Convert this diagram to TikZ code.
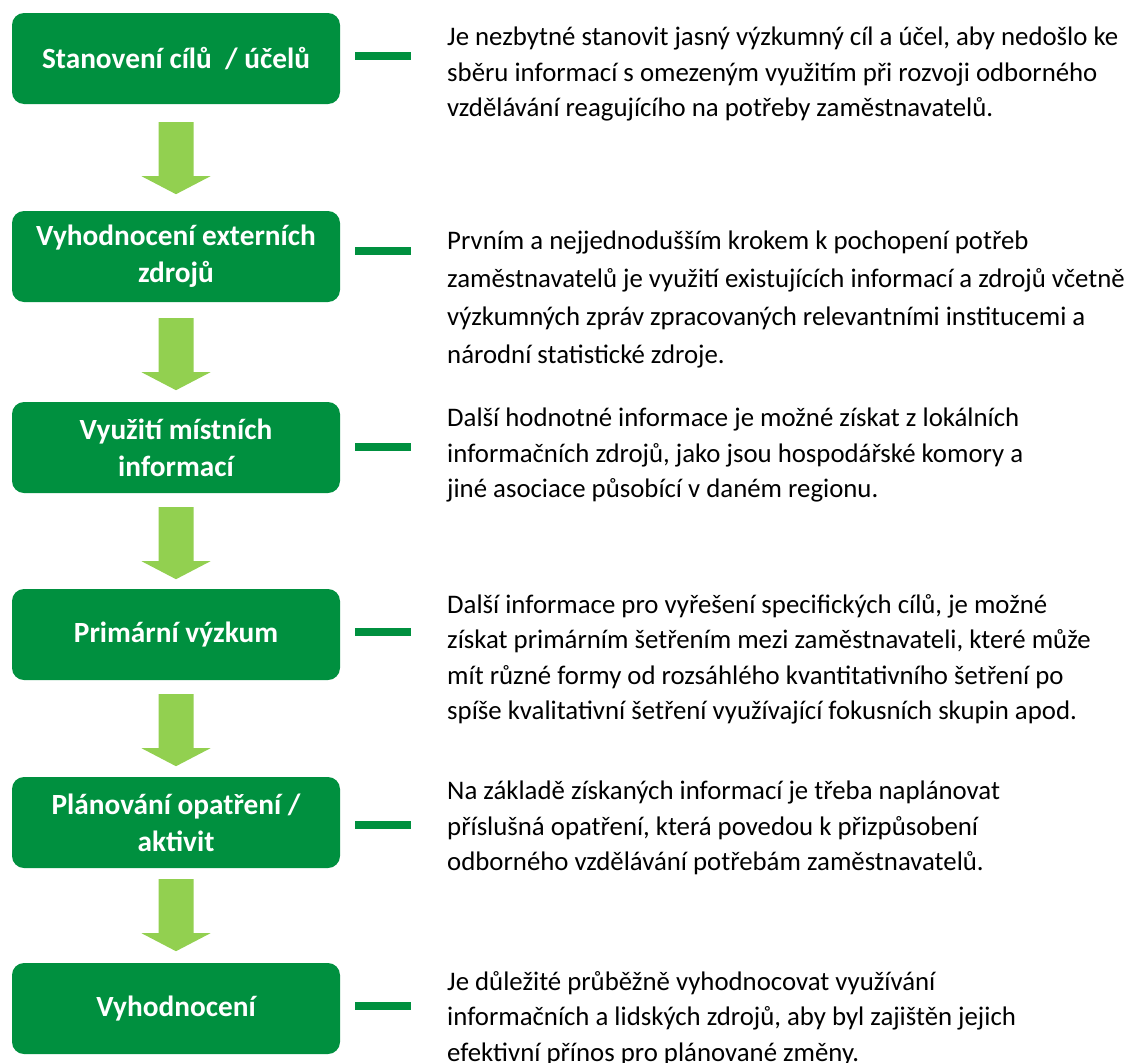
\documentclass[tikz,border=0pt]{standalone}
\usepackage{fontspec}
\setmainfont{Carlito}
\usetikzlibrary{positioning, arrows.meta}
\definecolor{stepgreen} {RGB}{0, 144, 63}
\definecolor{arrowgreen}{RGB}{146, 208, 80}
\newcommand{\boxfont} {\fontsize{29.3pt}{37pt}\selectfont\bfseries}
\newcommand{\notefont}{\fontsize{26.8pt}{35.5pt}\selectfont}
\tikzset{
  % green step box
  stepbox/.style={
    rectangle, rounded corners=12pt,
    minimum width=328pt, minimum height=91pt, inner sep=0pt,
    fill=stepgreen, text=white, font=\boxfont, align=center
  },
  % short bar between box and text
  linkbar/.style={
    rectangle, minimum width=56pt, minimum height=8pt,
    inner sep=0pt, fill=stepgreen
  },
  % explanatory text
  note/.style={
    anchor=north west, inner sep=0pt,
    font=\notefont, align=left, text=black
  },
  % block arrow pointing down
  pics/blockarrow/.style={code={
    \fill[arrowgreen] (-17.5,0) -- (17.5,0) -- (17.5,54) -- (34.5,54)
      -- (0,72) -- (-34.5,54) -- (-17.5,54) -- cycle;
  }},
}
\begin{document}
\begin{tikzpicture}[x=1pt, y=-1pt]
  \useasboundingbox (0,0) rectangle (1128,1063);
  % steps
  \node[stepbox] (s1) at (176,58.5)   {Stanovení cílů\ \ / účelů};
  \node[stepbox] (s2) at (176,256.5)  {Vyhodnocení externích\\zdrojů};
  \node[stepbox] (s3) at (176,447.5)  {Využití místních\\informací};
  \node[stepbox] (s4) at (176,634.5)  {Primární výzkum};
  \node[stepbox] (s5) at (176,822.5)  {Plánování opatření /\\aktivit};
  \node[stepbox] (s6) at (176,1008.5) {Vyhodnocení};
  % arrows between steps
  \foreach \a/\g in {s1/18, s2/16, s3/14, s4/14, s5/11}
    \pic at ([yshift=-\g pt]\a.south) {blockarrow};
  % bars
  \node[linkbar] (b1) at (383,56)   {};
  \node[linkbar] (b2) at (383,251)  {};
  \node[linkbar] (b3) at (383,447)  {};
  \node[linkbar] (b4) at (383,632)  {};
  \node[linkbar] (b5) at (383,825)  {};
  \node[linkbar] (b6) at (383,1006) {};
  % texts
  \node[note] (t1) at (447,27) {Je nezbytné stanovit jasný výzkumný cíl a účel, aby nedošlo ke\\
    sběru informací s omezeným využitím při rozvoji odborného\\
    vzdělávání reagujícího na potřeby zaměstnavatelů.};
  \node[note, font=\fontsize{26.8pt}{38pt}\selectfont] (t2) at (447,231)
    {Prvním a nejjednodušším krokem k pochopení potřeb\\
    zaměstnavatelů je využití existujících informací a zdrojů včetně\\
    výzkumných zpráv zpracovaných relevantními institucemi a\\
    národní statistické zdroje.};
  \node[note] (t3) at (447,408) {Další hodnotné informace je možné získat z lokálních\\
    informačních zdrojů, jako jsou hospodářské komory a\\
    jiné asociace působící v daném regionu.};
  \node[note] (t4) at (447,594) {Další informace pro vyřešení specifických cílů, je možné\\
    získat primárním šetřením mezi zaměstnavateli, které může\\
    mít různé formy od rozsáhlého kvantitativního šetření po\\
    spíše kvalitativní šetření využívající fokusních skupin apod.};
  \node[note] (t5) at (447,781) {Na základě získaných informací je třeba naplánovat\\
    příslušná opatření, která povedou k přizpůsobení\\
    odborného vzdělávání potřebám zaměstnavatelů.};
  \node[note] (t6) at (447,971) {Je důležité průběžně vyhodnocovat využívání\\
    informačních a lidských zdrojů, aby byl zajištěn jejich\\
    efektivní přínos pro plánované změny.};
\end{tikzpicture}
\end{document}
